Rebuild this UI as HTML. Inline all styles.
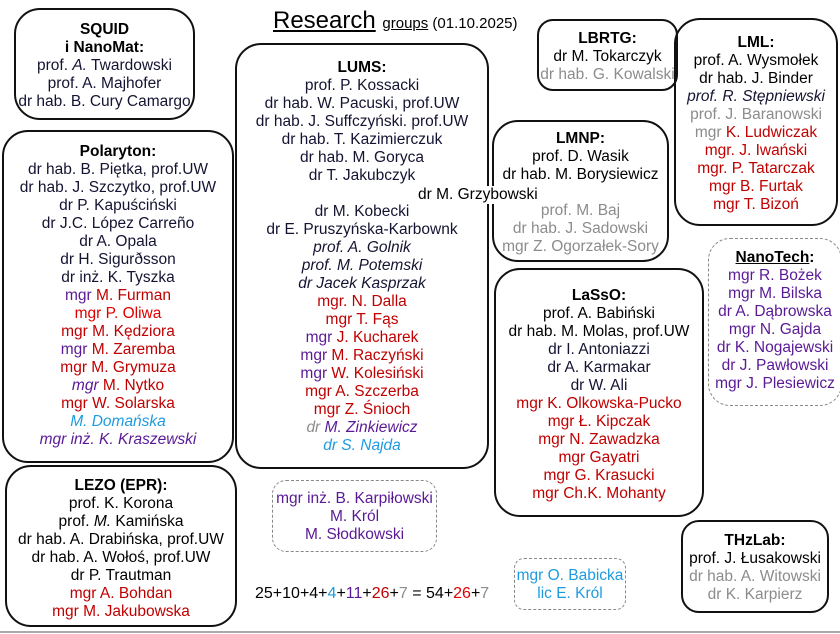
<!DOCTYPE html>
<html><head><meta charset="utf-8"><style>
body{margin:0;width:840px;height:634px;background:#fff;position:relative;overflow:hidden;font-family:"Liberation Sans",sans-serif;font-size:15.5px;color:#141432}
.b{position:absolute;border:2px solid #111;border-radius:26px;box-sizing:border-box;text-align:center;line-height:18px;white-space:nowrap}
.d{border:1px dashed #888;border-radius:14px}
.t{color:#000;font-weight:bold}
.r{color:#c00000}.p{color:#5a1a96}.g{color:#8c8c8c}.c{color:#1e9be0}.k{color:#000}
i{font-style:italic}
.ab{position:absolute;white-space:nowrap;line-height:18px}
</style></head><body>
<div class="ab" style="left:273px;top:6px;font-size:24px;line-height:30px;color:#000"><u>Research</u> <span style="font-size:15px"><u>groups</u> (01.10.2025)</span></div>

<div class="b" style="left:14px;top:8px;width:181px;height:112px;padding-top:11px">
<div class="t">SQUID</div><div class="t">i NanoMat:</div><div>prof. <i>A.</i> Twardowski</div><div>prof. A. Majhofer</div><div>dr hab. B. Cury Camargo</div></div>

<div class="b" style="left:235px;top:43px;width:254px;height:426px;padding-top:14px">
<div class="t">LUMS:</div><div>prof. P. Kossacki</div><div>dr hab. W. Pacuski, prof.UW</div><div>dr hab. J. Suffczyński. prof.UW</div><div>dr hab. T. Kazimierczuk</div><div>dr hab. M. Goryca</div><div>dr T. Jakubczyk</div>
<div style="height:18px"></div>
<div>dr M. Kobecki</div><div>dr E. Pruszyńska-Karbownk</div><div><i>prof. A. Golnik</i></div><div><i>prof. M. Potemski</i></div><div><i>dr Jacek Kasprzak</i></div>
<div class="r">mgr. N. Dalla</div><div class="r">mgr T. Fąs</div><div><span class="p">mgr</span> <span class="r">J. Kucharek</span></div><div><span class="p">mgr</span> <span class="r">M. Raczyński</span></div><div><span class="p">mgr</span> <span class="r">W. Kolesiński</span></div><div class="r">mgr A. Szczerba</div><div class="r">mgr Z. Śnioch</div><div><i><span class="g">dr</span> <span class="p">M. Zinkiewicz</span></i></div><div class="c"><i>dr S. Najda</i></div></div>

<div class="b" style="left:2px;top:130px;width:232px;height:333px;padding-top:11px">
<div class="t">Polaryton:</div><div>dr hab. B. Piętka, prof.UW</div><div>dr hab. J. Szczytko, prof.UW</div><div>dr P. Kapuściński</div><div>dr J.C. López Carreño</div><div>dr A. Opala</div><div>dr H. Sigurðsson</div><div>dr inż. K. Tyszka</div>
<div><span class="p">mgr</span> <span class="r">M. Furman</span></div><div class="r" style="color:#e00000">mgr P. Oliwa</div><div class="r">mgr M. Kędziora</div><div><span class="p">mgr</span> <span class="r">M. Zaremba</span></div><div class="r">mgr M. Grymuza</div><div><i class="p">mgr</i> <span class="r">M. Nytko</span></div><div class="r">mgr W. Solarska</div><div class="c"><i>M. Domańska</i></div><div class="p"><i>mgr inż. K. Kraszewski</i></div></div>

<div class="b" style="left:5px;top:465px;width:232px;height:162px;padding-top:10px">
<div class="t">LEZO (EPR):</div><div class="k">prof. K. Korona</div><div class="k">prof. <i>M.</i> Kamińska</div><div class="k">dr hab. A. Drabińska, prof.UW</div><div class="k">dr hab. A. Wołoś, prof.UW</div><div class="k">dr P. Trautman</div><div class="r">mgr A. Bohdan</div><div class="r">mgr M. Jakubowska</div></div>

<div class="b d" style="left:272px;top:480px;width:165px;height:72px;padding-top:9px">
<div class="p">mgr inż. B. Karpiłowski</div><div class="p">M. Król</div><div class="p">M. Słodkowski</div></div>

<div class="ab" style="left:255px;top:585px;font-size:16px;color:#000">25+10+4+<span class="c">4</span>+<span class="p">11</span>+<span class="r">26</span>+<span class="g">7</span> = 54+<span style="color:#e00000">26</span>+<span class="g">7</span></div>

<div class="b" style="left:537px;top:19px;width:141px;height:72px;padding-top:9px;border-radius:16px">
<div class="t">LBRTG:</div><div class="k">dr M. Tokarczyk</div><div class="g">dr hab. G. Kowalski</div></div>

<div class="b" style="left:674px;top:18px;width:164px;height:208px;padding-top:14px">
<div class="t">LML:</div><div class="k">prof. A. Wysmołek</div><div class="k">dr hab. J. Binder</div><div><i>prof. R. Stępniewski</i></div><div class="g">prof. J. Baranowski</div><div><span class="g">mgr</span> <span class="r">K. Ludwiczak</span></div><div class="r">mgr. J. Iwański</div><div class="r">mgr. P. Tatarczak</div><div class="r">mgr B. Furtak</div><div class="r">mgr T. Bizoń</div></div>

<div class="b" style="left:492px;top:120px;width:177px;height:142px;padding-top:8px">
<div class="t">LMNP:</div><div class="k">prof. D. Wasik</div><div class="k">dr hab. M. Borysiewicz</div><div style="height:18px"></div><div class="g">prof. M. Baj</div><div class="g">dr hab. J. Sadowski</div><div class="g">mgr Z. Ogorzałek-Sory</div></div>

<div class="ab" style="left:418px;top:186px;background:#fff;color:#000;padding-right:2px">dr M. Grzybowski</div>

<div class="b d" style="left:708px;top:238px;width:134px;height:168px;padding-top:10px;border-radius:22px">
<div class="t"><u>NanoTech</u>:</div><div class="p">mgr R. Bożek</div><div class="p">mgr M. Bilska</div><div class="p">dr A. Dąbrowska</div><div class="p">mgr N. Gajda</div><div class="p">dr K. Nogajewski</div><div class="p">dr J. Pawłowski</div><div class="p">mgr J. Plesiewicz</div></div>

<div class="b" style="left:494px;top:268px;width:210px;height:249px;padding-top:17px">
<div class="t">LaSsO:</div><div class="k">prof. A. Babiński</div><div class="k">dr hab. M. Molas, prof.UW</div><div>dr I. Antoniazzi</div><div>dr A. Karmakar</div><div>dr W. Ali</div><div class="r">mgr K. Olkowska-Pucko</div><div class="r">mgr Ł. Kipczak</div><div class="r">mgr N. Zawadzka</div><div class="r">mgr Gayatri</div><div class="r">mgr G. Krasucki</div><div class="r">mgr Ch.K. Mohanty</div></div>

<div class="b d" style="left:514px;top:558px;width:112px;height:52px;padding-top:8px;border-radius:10px">
<div class="c">mgr O. Babicka</div><div class="c">lic E. Król</div></div>

<div class="b" style="left:681px;top:520px;width:148px;height:93px;padding-top:10px;border-radius:18px">
<div class="t">THzLab:</div><div class="k">prof. J. Łusakowski</div><div class="g">dr hab. A. Witowski</div><div class="g">dr K. Karpierz</div></div>

<div style="position:absolute;left:0;top:631px;width:840px;height:2px;background:#aaa"></div>
</body></html>
